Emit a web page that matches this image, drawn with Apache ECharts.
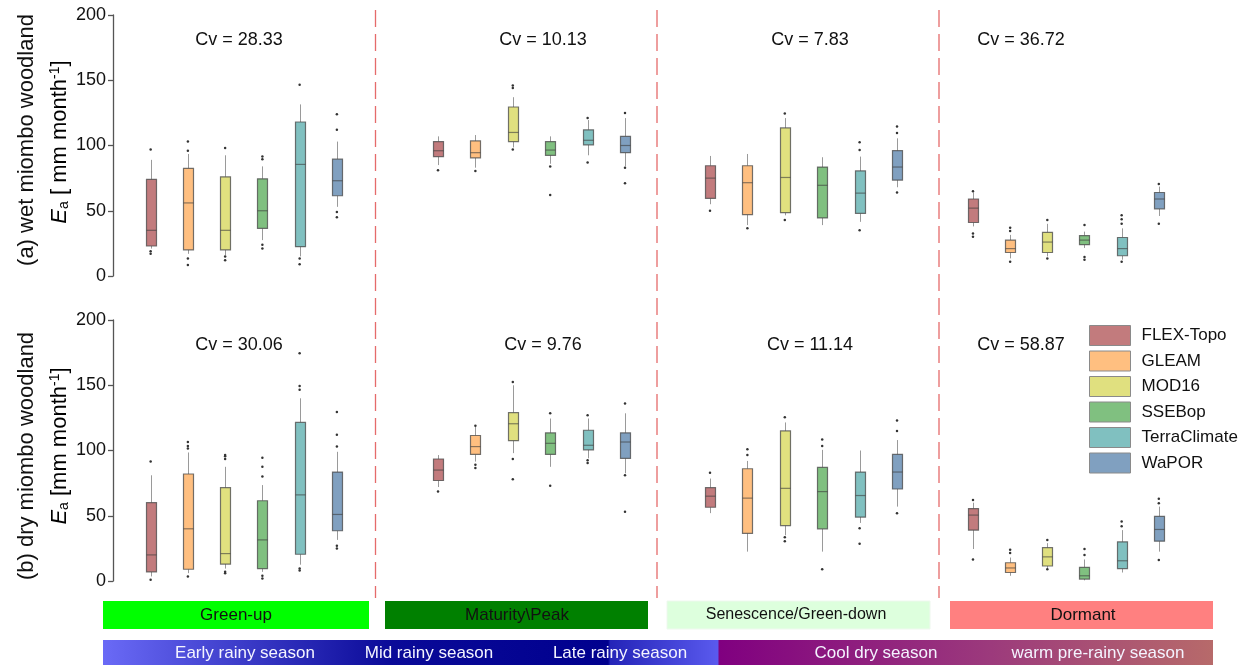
<!DOCTYPE html>
<html>
<head>
<meta charset="utf-8">
<script src="https://cdn.jsdelivr.net/npm/echarts@6/dist/echarts.min.js"></script>
<style>
html, body { margin: 0; padding: 0; background: #fff; }
#main { width: 1255px; height: 665px; }
</style>
</head>
<body>
<div id="main"></div>
<script>
var products = ['FLEX-Topo', 'GLEAM', 'MOD16', 'SSEBop', 'TerraClimate', 'WaPOR'];
var phases = ['Green-up', 'Maturity\\Peak', 'Senescence/Green-down', 'Dormant'];
var seasons = ['Early rainy season', 'Mid rainy season', 'Late rainy season', 'Cool dry season', 'warm pre-rainy season'];
var cvWet = ['28.33', '10.13', '7.83', '36.72'];
var cvDry = ['30.06', '9.76', '11.14', '58.87'];
var yTicks = [0, 50, 100, 150, 200];

// box stats per product: [lower whisker, Q1, median, Q3, upper whisker]
var wetGreenUp = [[21, 23, 35, 74, 89], [17, 20, 56, 82.5, 93.5], [16, 20, 35, 76, 92.5], [27.5, 36.5, 50, 74.5, 84], [15, 22.5, 85.5, 118, 131.5], [53, 61.5, 73, 89.5, 103]];
var wetMaturity = [[85, 91.5, 96, 103, 107], [83, 90.5, 94.5, 103.5, 108], [98.5, 103, 110, 129.5, 137], [86, 92.5, 96.5, 103, 107], [92.5, 100.5, 104, 112, 119.5], [84, 94.5, 100, 107, 121]];
var wetSenescence = [[55, 59.5, 75, 84.5, 92], [39, 47, 71.5, 84.5, 93.5], [46.5, 48.5, 75.5, 113.5, 121], [39, 44.5, 69.5, 83.5, 91], [41.5, 48, 63.5, 80.5, 91.5], [68, 73.5, 83.5, 96, 105.5]];
var wetDormant = [[38, 41, 52, 59, 64], [13.5, 18, 21, 27.5, 31.5], [15, 18, 26, 33.5, 40], [21.5, 24, 27.5, 31, 34], [12.5, 15.5, 21, 29.5, 36.5], [46, 51.5, 59, 64, 68.5]];
var dryGreenUp = [[3.5, 7, 20, 60, 81], [6, 9, 40, 82, 98.5], [9.5, 13, 21, 71.5, 87.5], [7, 9.5, 31.5, 61.5, 73.5], [12.5, 20.5, 66, 121.5, 140], [31.5, 38.5, 51, 83.5, 99]];
var dryMaturity = [[72, 77, 85, 93.5, 96.5], [91.5, 97, 103, 111.5, 118], [98, 107.5, 120.5, 129, 150], [87.5, 97, 105.5, 113.5, 124.5], [94, 100.5, 104, 115.5, 124.5], [82.5, 94, 106.5, 113.5, 128.5]];
var drySenescence = [[52, 56.5, 65, 71.5, 78.5], [22.5, 36.5, 63.5, 86, 92], [35, 42.5, 71, 115, 121.5], [22.5, 40, 68.5, 87, 100.5], [44.5, 49, 65.5, 83.5, 100], [57, 70.5, 83.5, 97, 108]];
var dryDormant = [[24.5, 39, 50.5, 55.5, 60], [4, 6.5, 10, 14, 18], [9.5, 11.5, 18.5, 25.5, 29], [0.5, 1.5, 4, 10.5, 16.5], [6.5, 9.5, 15.5, 30, 39], [22.5, 30.5, 39.5, 49.5, 57]];

// outliers per product
var wetGreenUpOut = [[97, 19, 17], [96, 103, 13.5, 8.5], [98, 15, 12], [89.5, 91.5, 24, 21], [146.5, 13.5, 9], [112, 124, 49, 45]];
var wetMaturityOut = [[81], [80.5], [144, 146, 97], [84, 62], [121, 87], [125, 83, 71]];
var wetSenescenceOut = [[50], [36.5], [124.5, 43], [], [96.5, 102.5, 35], [109.5, 114.5, 64]];
var wetDormantOut = [[65, 32.5, 30], [34.5, 37, 11], [43, 13.5], [39, 14.5, 12.5], [40, 43.5, 46.5, 11], [70.5, 40]];
var dryGreenUpOut = [[91.5, 1], [101.5, 103.5, 106.5, 3.5], [93.5, 95.5, 96.5, 7, 6], [80, 87.5, 94.5, 4, 2], [146.5, 149.5, 174.5, 9.5, 8], [103, 112, 129.5, 27, 25]];
var dryMaturityOut = [[68.5], [119, 89, 86.5], [152.5, 93.5, 78], [128.5, 73], [127, 92.5, 90.5], [136, 81, 53]];
var drySenescenceOut = [[83], [96.5, 101], [125.5, 33.5, 30.5], [103.5, 108.5, 9], [40.5, 28.5], [115, 123, 52]];
var dryDormantOut = [[62, 16.5], [21.5, 24], [31.5, 9], [20, 24.5], [42, 45.5], [59.5, 63, 16]];

var boxColors = ['#c27b7d', '#ffbf80', '#e0e07f', '#80c080', '#80c0c0', '#80a0c0'];
var phaseColors = ['#00ff00', '#008000', '#ddffdd', '#ff8080'];
var font = 'Liberation Sans, Arial, sans-serif';

var rowBoxes = [[wetGreenUp, wetMaturity, wetSenescence, wetDormant], [dryGreenUp, dryMaturity, drySenescence, dryDormant]];
var rowOut = [[wetGreenUpOut, wetMaturityOut, wetSenescenceOut, wetDormantOut], [dryGreenUpOut, dryMaturityOut, drySenescenceOut, dryDormantOut]];
var rowCv = [cvWet, cvDry];

var colLeft = [132, 419.3, 691.3, 954.4];
var colWidth = [223.5, 224.4, 224.4, 223];
var cvX = [239, 543, 810, 1021];
var rowTop = [15, 320];
var plotH = 261;

function renderBox(params, api) {
	var i = api.value(0);
	var lo = api.coord([i, api.value(1)]);
	var q1 = api.coord([i, api.value(2)]);
	var md = api.coord([i, api.value(3)]);
	var q3 = api.coord([i, api.value(4)]);
	var hi = api.coord([i, api.value(5)]);
	var x = Math.round(lo[0]) + 0.5, w = 10;
	return {
		type: 'group',
		children: [
			{ type: 'line', shape: { x1: x, y1: lo[1], x2: x, y2: q1[1] }, style: { stroke: '#9a9a9a', lineWidth: 1 } },
			{ type: 'line', shape: { x1: x, y1: q3[1], x2: x, y2: hi[1] }, style: { stroke: '#9a9a9a', lineWidth: 1 } },
			{ type: 'rect', shape: { x: x - w / 2, y: q3[1], width: w, height: q1[1] - q3[1] }, style: { fill: boxColors[i], stroke: 'rgba(70,70,70,0.75)', lineWidth: 1.2 } },
			{ type: 'line', shape: { x1: x - w / 2, y1: md[1], x2: x + w / 2, y2: md[1] }, style: { stroke: 'rgba(60,60,60,0.6)', lineWidth: 1.2 } }
		]
	};
}

var grids = [], xAxes = [], yAxes = [], series = [], graphics = [];
for (var r = 0; r < 2; r++) {
	for (var c = 0; c < 4; c++) {
		var k = r * 4 + c;
		grids.push({ left: colLeft[c], top: rowTop[r], width: colWidth[c], height: plotH });
		xAxes.push({ type: 'category', gridIndex: k, data: products, show: false });
		yAxes.push({
			type: 'value', gridIndex: k, min: 0, max: 200, interval: 50, show: c === 0, offset: 19,
			axisLine: { show: true, lineStyle: { color: '#555', width: 1.3 } },
			axisTick: { show: true, inside: false, length: 5, lineStyle: { color: '#555', width: 1.3 } },
			axisLabel: { color: '#111', fontSize: 18, fontFamily: font, margin: 7 },
			splitLine: { show: false }
		});
		var boxData = rowBoxes[r][c].map(function (s, i) { return [i].concat(s); });
		series.push({
			type: 'custom', xAxisIndex: k, yAxisIndex: k, renderItem: renderBox,
			encode: { x: 0, y: [1, 2, 3, 4, 5] }, data: boxData, silent: true, clip: false
		});
		var outData = [];
		rowOut[r][c].forEach(function (vals, i) {
			vals.forEach(function (v) { outData.push([i, v]); });
		});
		series.push({
			type: 'scatter', xAxisIndex: k, yAxisIndex: k, data: outData, symbolSize: 2.5,
			itemStyle: { color: '#333', opacity: 1 }, silent: true
		});
		graphics.push({
			type: 'text', x: cvX[c], y: rowTop[r] + 25,
			style: { text: 'Cv = ' + rowCv[r][c], font: '18px ' + font, fill: '#111', textAlign: 'center', textVerticalAlign: 'middle' }
		});
	}
}

// dummy series for the legend
products.forEach(function (p, i) {
	series.push({ type: 'scatter', name: p, data: [], xAxisIndex: 0, yAxisIndex: 0, itemStyle: { color: boxColors[i], opacity: 1 } });
});

// y-axis names
var nameRich = {
	n: { fontSize: 22, fontFamily: font, color: '#111' },
	i: { fontSize: 22, fontFamily: font, fontStyle: 'italic', color: '#111' },
	sub: { fontSize: 14, fontFamily: font, color: '#111', verticalAlign: 'bottom', padding: [9, 0, 0, 0] },
	sup: { fontSize: 14, fontFamily: font, color: '#111', verticalAlign: 'top', padding: [0, 0, 9, 0] }
};
var axisNames = [
	['(a) wet miombo woodland', '{i|E}{sub|a}{n| [ mm month}{sup|-1}{n|]}', 140, 142],
	['(b) dry miombo woodland', '{i|E}{sub|a}{n| [mm month}{sup|-1}{n|]}', 456, 446]
];
axisNames.forEach(function (a) {
	graphics.push({ type: 'text', x: 27, y: a[2], rotation: Math.PI / 2,
		style: { text: a[0], font: '22px ' + font, fill: '#111', textAlign: 'center', textVerticalAlign: 'middle' } });
	graphics.push({ type: 'text', x: 60, y: a[3], rotation: Math.PI / 2,
		style: { text: a[1], rich: nameRich, textAlign: 'center', textVerticalAlign: 'middle' } });
});

// phase dividers
[375.5, 657, 939].forEach(function (x) {
	graphics.push({ type: 'line', shape: { x1: x, y1: 10, x2: x, y2: 598 },
		style: { stroke: 'rgba(222,70,70,0.8)', lineWidth: 1.3, lineDash: [17, 7] } });
});

// phase bars
var phaseX = [[103, 369], [385, 648], [667, 930], [950, 1213]];
var phaseText = [236, 517, 796, 1083];
phases.forEach(function (p, i) {
	graphics.push({ type: 'rect', shape: { x: phaseX[i][0], y: 601, width: phaseX[i][1] - phaseX[i][0], height: 28 },
		style: { fill: phaseColors[i], stroke: i === 2 ? '#eef8ee' : null } });
	graphics.push({ type: 'text', x: phaseText[i], y: 615,
		style: { text: p, font: (i === 2 ? '16px ' : '17px ') + font, fill: '#111', textAlign: 'center', textVerticalAlign: 'middle' } });
});

// season bar
graphics.push({ type: 'rect', shape: { x: 103, y: 640, width: 1110, height: 26 },
	style: { fill: { type: 'linear', x: 0, y: 0, x2: 1, y2: 0, colorStops: [
		{ offset: 0, color: '#6a6af6' },
		{ offset: 0.26, color: '#0a0a98' },
		{ offset: 0.455, color: '#00008e' },
		{ offset: 0.457, color: '#2424b8' },
		{ offset: 0.554, color: '#5a5aee' },
		{ offset: 0.555, color: '#800080' },
		{ offset: 0.8, color: '#9c3a7c' },
		{ offset: 1, color: '#b76a6a' }
	] } } });
var seasonText = [245, 429, 620, 876, 1098];
seasons.forEach(function (s, i) {
	graphics.push({ type: 'text', x: seasonText[i], y: 653,
		style: { text: s, font: '17px ' + font, fill: '#f4f4ff', textAlign: 'center', textVerticalAlign: 'middle' } });
});

var myChart = echarts.init(document.getElementById('main'), null, { renderer: 'canvas' });
var option = {
	animation: false,
	backgroundColor: '#fff',
	grid: grids,
	xAxis: xAxes,
	yAxis: yAxes,
	legend: {
		data: products, orient: 'vertical', left: 1089, top: 325, padding: 0,
		itemWidth: 41, itemHeight: 20, itemGap: 4.5, icon: 'rect', selectedMode: false,
		itemStyle: { borderColor: '#8a8a8a', borderWidth: 1, opacity: 1 },
		textStyle: { fontSize: 17, fontFamily: font, color: '#111', padding: [0, 0, 0, 6] }
	},
	series: series,
	graphic: graphics
};
myChart.setOption(option);
</script>
</body>
</html>
